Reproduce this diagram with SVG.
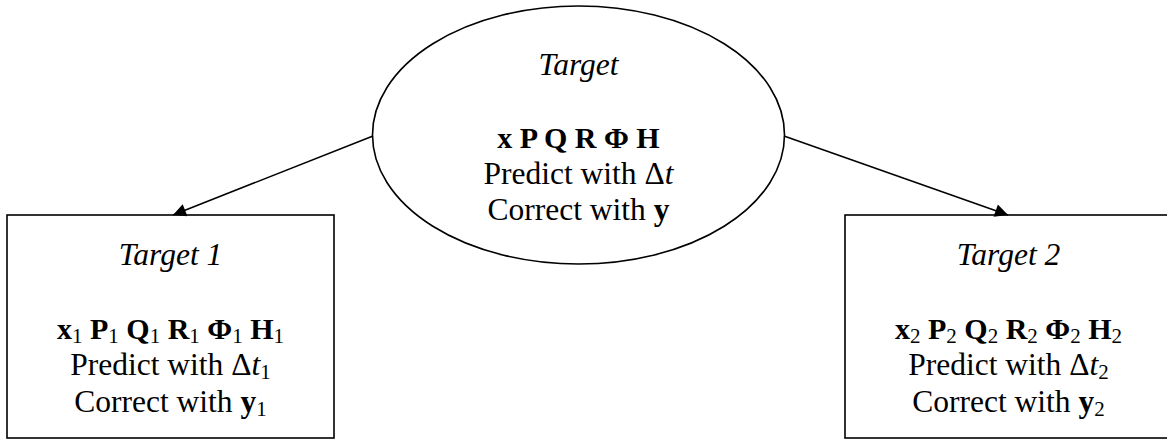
<svg xmlns="http://www.w3.org/2000/svg" width="1167" height="440" viewBox="0 0 1167 440">
<style>
text{font-family:"Liberation Serif","Times New Roman",serif;font-size:31.5px;fill:#000;text-anchor:middle}
.b{font-weight:bold}
.i{font-style:italic}
.m{font-size:30px}
.s{font-size:21px;font-weight:normal;font-style:normal}
.shape{fill:#fff;stroke:#000;stroke-width:1.6}
.conn{stroke:#000;stroke-width:1.6;fill:none}
</style>
<defs>
<marker id="ah" viewBox="0 0 10 10" refX="10" refY="5" markerWidth="17" markerHeight="13" markerUnits="userSpaceOnUse" orient="auto">
<path d="M0,0 L10,5 L0,10 z" fill="#000"/>
</marker>
</defs>
<rect width="1167" height="440" fill="#fff"/>
<g id="target">
<ellipse class="shape" cx="578.5" cy="135" rx="206" ry="129"/>
<text x="578.5" y="75" class="i">Target</text>
<text x="578.5" y="148" class="b m">x P Q R Φ H</text>
<text x="578.5" y="184">Predict with Δ<tspan class="i">t</tspan></text>
<text x="578.5" y="220">Correct with <tspan class="b">y</tspan></text>
</g>
<g id="target1">
<rect class="shape" x="7" y="215" width="327" height="223"/>
<text x="170.5" y="265" class="i">Target 1</text>
<text x="170.5" y="339" class="m"><tspan class="b">x</tspan><tspan class="s" dy="4">1</tspan><tspan class="b" dy="-4"> P</tspan><tspan class="s" dy="4">1</tspan><tspan class="b" dy="-4"> Q</tspan><tspan class="s" dy="4">1</tspan><tspan class="b" dy="-4"> R</tspan><tspan class="s" dy="4">1</tspan><tspan class="b" dy="-4"> Φ</tspan><tspan class="s" dy="4">1</tspan><tspan class="b" dy="-4"> H</tspan><tspan class="s" dy="4">1</tspan></text>
<text x="170.5" y="375">Predict with Δ<tspan class="i">t</tspan><tspan class="s" dy="4">1</tspan></text>
<text x="170.5" y="412">Correct with <tspan class="b">y</tspan><tspan class="s" dy="4">1</tspan></text>
</g>
<g id="target2">
<rect class="shape" x="845" y="215" width="327" height="223"/>
<text x="1008.5" y="265" class="i">Target 2</text>
<text x="1008.5" y="339" class="m"><tspan class="b">x</tspan><tspan class="s" dy="4">2</tspan><tspan class="b" dy="-4"> P</tspan><tspan class="s" dy="4">2</tspan><tspan class="b" dy="-4"> Q</tspan><tspan class="s" dy="4">2</tspan><tspan class="b" dy="-4"> R</tspan><tspan class="s" dy="4">2</tspan><tspan class="b" dy="-4"> Φ</tspan><tspan class="s" dy="4">2</tspan><tspan class="b" dy="-4"> H</tspan><tspan class="s" dy="4">2</tspan></text>
<text x="1008.5" y="375">Predict with Δ<tspan class="i">t</tspan><tspan class="s" dy="4">2</tspan></text>
<text x="1008.5" y="412">Correct with <tspan class="b">y</tspan><tspan class="s" dy="4">2</tspan></text>
</g>
<g id="connectors">
<line class="conn" x1="373" y1="136" x2="173" y2="215" marker-end="url(#ah)"/>
<line class="conn" x1="784" y1="136" x2="1008" y2="215" marker-end="url(#ah)"/>
</g>
</svg>
